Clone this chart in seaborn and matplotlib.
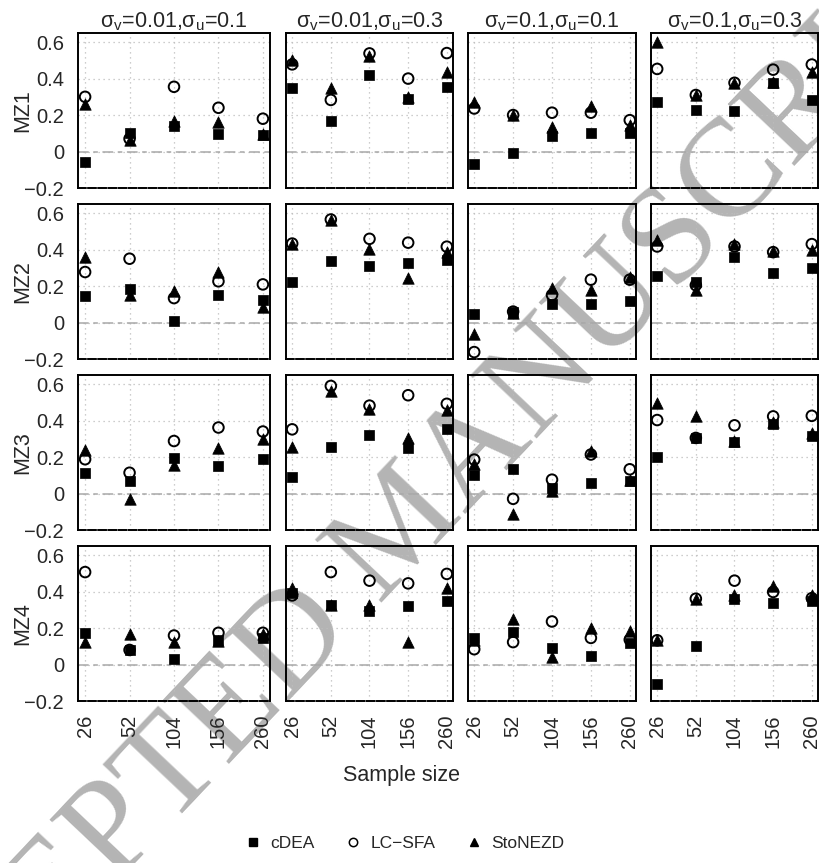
import numpy as np
import pandas as pd
import matplotlib
matplotlib.use("Agg")
import matplotlib.pyplot as plt
from matplotlib.lines import Line2D
import seaborn as sns

# ---------------- data ----------------
sample_sizes = ["26", "52", "104", "156", "260"]
settings = [r"σ$_\mathregular{v}$=0.01,σ$_\mathregular{u}$=0.1",
            r"σ$_\mathregular{v}$=0.01,σ$_\mathregular{u}$=0.3",
            r"σ$_\mathregular{v}$=0.1,σ$_\mathregular{u}$=0.1",
            r"σ$_\mathregular{v}$=0.1,σ$_\mathregular{u}$=0.3"]
measures = ["MZ1", "MZ2", "MZ3", "MZ4"]
methods = ["cDEA", "LC\u2212SFA", "StoNEZD"]

# values[measure][setting][sample size]
cdea = [
    [[-0.057, 0.10, 0.14, 0.095, 0.09],
     [0.35, 0.166, 0.417, 0.29, 0.355],
     [-0.066, -0.008, 0.085, 0.104, 0.104],
     [0.274, 0.226, 0.223, 0.374, 0.285]],
    [[0.143, 0.186, 0.01, 0.151, 0.122],
     [0.221, 0.337, 0.308, 0.329, 0.343],
     [0.048, 0.06, 0.099, 0.103, 0.12],
     [0.257, 0.224, 0.357, 0.273, 0.299]],
    [[0.11, 0.069, 0.197, 0.153, 0.188],
     [0.09, 0.253, 0.322, 0.248, 0.352],
     [0.10, 0.133, 0.033, 0.055, 0.069],
     [0.198, 0.302, 0.28, 0.383, 0.314]],
    [[0.174, 0.077, 0.028, 0.133, 0.146],
     [0.394, 0.327, 0.295, 0.323, 0.351],
     [0.146, 0.178, 0.093, 0.047, 0.118],
     [-0.107, 0.103, 0.361, 0.336, 0.346]],
]
lcsfa = [
    [[0.30, 0.07, 0.355, 0.24, 0.18],
     [0.478, 0.283, 0.538, 0.40, 0.54],
     [0.236, 0.20, 0.213, 0.213, 0.172],
     [0.453, 0.31, 0.377, 0.449, 0.477]],
    [[0.277, 0.35, 0.134, 0.226, 0.209],
     [0.433, 0.565, 0.459, 0.438, 0.416],
     [-0.162, 0.06, 0.151, 0.235, 0.235],
     [0.417, 0.205, 0.417, 0.386, 0.43]],
    [[0.188, 0.114, 0.288, 0.362, 0.34],
     [0.352, 0.59, 0.482, 0.539, 0.492],
     [0.186, -0.029, 0.076, 0.214, 0.133],
     [0.403, 0.305, 0.374, 0.423, 0.426]],
    [[0.507, 0.08, 0.159, 0.174, 0.174],
     [0.379, 0.507, 0.46, 0.445, 0.497],
     [0.084, 0.123, 0.236, 0.146, 0.136],
     [0.133, 0.361, 0.46, 0.398, 0.364]],
]
stonezd = [
    [[0.26, 0.065, 0.17, 0.16, 0.095],
     [0.50, 0.35, 0.525, 0.30, 0.436],
     [0.27, 0.20, 0.134, 0.247, 0.147],
     [0.60, 0.31, 0.377, 0.383, 0.436]],
    [[0.36, 0.151, 0.172, 0.277, 0.085],
     [0.433, 0.56, 0.405, 0.242, 0.386],
     [-0.063, 0.05, 0.191, 0.179, 0.249],
     [0.452, 0.179, 0.43, 0.395, 0.40]],
    [[0.236, -0.028, 0.159, 0.252, 0.297],
     [0.257, 0.56, 0.466, 0.302, 0.457],
     [0.162, -0.112, 0.012, 0.233, 0.076],
     [0.496, 0.423, 0.288, 0.39, 0.331]],
    [[0.121, 0.17, 0.125, 0.127, 0.17],
     [0.417, 0.327, 0.327, 0.123, 0.417],
     [0.136, 0.249, 0.043, 0.202, 0.183],
     [0.133, 0.361, 0.379, 0.43, 0.379]],
]
yticks = [-0.2, 0, 0.2, 0.4, 0.6]
ytick_labels = ["\u22120.2", "0", "0.2", "0.4", "0.6"]

# ---------------- long table ----------------
rows = []
for mi, series in enumerate([cdea, lcsfa, stonezd]):
    for r in range(4):
        for c in range(4):
            for k, n in enumerate(sample_sizes):
                rows.append(dict(method=methods[mi], measure=measures[r],
                                 setting=c, n=n, value=series[r][c][k]))
df = pd.DataFrame(rows)

# ---------------- style ----------------
sns.set_theme(style="white")
plt.rcParams["font.family"] = ["Liberation Sans", "DejaVu Sans"]
plt.rcParams["mathtext.fontset"] = "custom"
plt.rcParams["mathtext.rm"] = "Liberation Sans"
plt.rcParams["axes.unicode_minus"] = True

W, H = 820, 863
fig = plt.figure(figsize=(W / 100, H / 100), dpi=100)

col_left = [78, 286, 468, 651]
col_width = [192, 167, 168, 167]
row_top = [33, 204, 375, 546]
row_h = 155

marker_kw = {
    "cDEA": dict(marker="s", s=50, color="black", edgecolor="black", linewidth=0.5),
    "LC\u2212SFA": dict(marker="o", s=58, facecolor="none", edgecolor="black", linewidth=1.4),
    "StoNEZD": dict(marker="^", s=68, color="black", edgecolor="black", linewidth=0.5),
}

for r in range(4):
    for c in range(4):
        rect = [col_left[c] / W, 1 - (row_top[r] + row_h) / H,
                col_width[c] / W, row_h / H]
        ax = fig.add_axes(rect)
        ax.set_facecolor("none")
        sub = df[(df.measure == measures[r]) & (df.setting == c)]
        ax.grid(True, linestyle=(0, (1, 3)), color="#bdbdbd", linewidth=0.9)
        ax.axhline(0, color="#a8a8a8", linestyle=(0, (7, 3, 3, 3)), linewidth=1.1, zorder=1)
        for m in methods:
            d = sub[sub.method == m]
            sns.scatterplot(data=d, x="n", y="value", ax=ax, legend=False,
                            zorder=3, **marker_kw[m])
        ax.set_xlim(-0.16, 4.16)
        ax.set_ylim(-0.2, 0.65)
        ax.set_yticks(yticks)
        ax.set_xticks(range(len(sample_sizes)))
        ax.set_xlabel("")
        ax.set_ylabel("")
        ax.tick_params(axis="both", direction="out", length=7, width=1.2,
                       color="black", labelsize=14.5, pad=3)
        if c == 0:
            ax.set_yticklabels(ytick_labels)
            ax.set_ylabel(measures[r], fontsize=15.5)
            ax.yaxis.set_label_coords(-0.235, 0.5)
        else:
            ax.set_yticklabels([])
        if r == 3:
            ax.set_xticklabels(sample_sizes, rotation=90)
        else:
            ax.set_xticklabels([])
        if r == 0:
            ax.set_title(settings[c], fontsize=15.5, pad=4)
        for sp in ax.spines.values():
            sp.set_visible(True)
            sp.set_color("black")
            sp.set_linewidth(1.4)
        ax.spines["bottom"].set_linestyle((0, (4, 1.2)))

fig.text(0.49, 1 - 775 / H, "Sample size", ha="center", va="center", fontsize=15.5)

handles = [
    Line2D([], [], marker="s", linestyle="none", color="black", markersize=5.5),
    Line2D([], [], marker="o", linestyle="none", markerfacecolor="none",
           markeredgecolor="black", markersize=6, markeredgewidth=1.1),
    Line2D([], [], marker="^", linestyle="none", color="black", markersize=6),
]
fig.legend(handles, methods, loc="center", bbox_to_anchor=(0.494, 1 - 843 / H),
           ncol=3, frameon=False, fontsize=12.5, handlelength=0.8,
           handletextpad=0.6, columnspacing=1.8)

fig.text(405 / W, 1 - 530 / H, "ACCEPTED MANUSCRIPT", rotation=46.6,
         rotation_mode="anchor", ha="center", va="center", fontsize=101,
         family="Liberation Serif", color="#b4b4b4", zorder=-1)

fig.savefig("out.png", dpi=100)
